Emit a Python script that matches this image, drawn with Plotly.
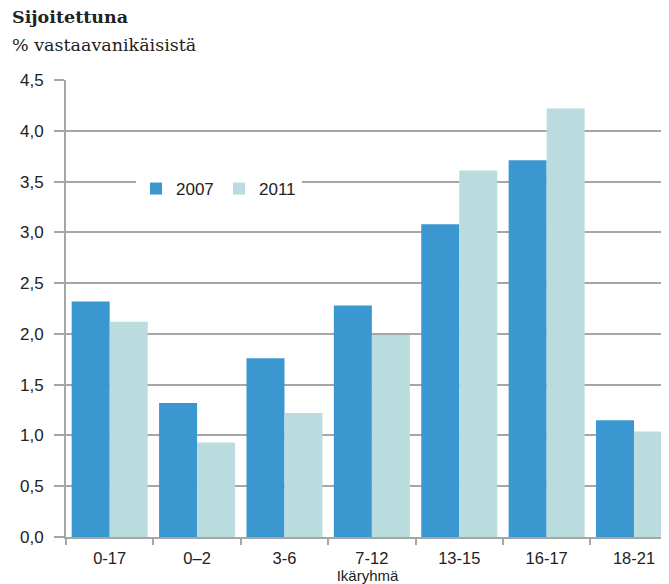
import plotly.graph_objects as go

categories = ["0-17", "0–2", "3-6", "7-12", "13-15", "16-17", "18-21"]
values_2007 = [2.32, 1.32, 1.76, 2.28, 3.08, 3.71, 1.15]
values_2011 = [2.12, 0.93, 1.22, 1.99, 3.61, 4.22, 1.04]
y_ticks = [0, 0.5, 1.0, 1.5, 2.0, 2.5, 3.0, 3.5, 4.0, 4.5]
y_tick_labels = ["0,0", "0,5", "1,0", "1,5", "2,0", "2,5", "3,0", "3,5", "4,0", "4,5"]

W, H = 661, 576
L, T, B = 58, 72, 47
PW, PH = W - L, H - T - B

fig = go.Figure()
fig.add_trace(go.Bar(x=categories, y=values_2007, name="2007",
                     marker=dict(color="#3a97cf", line=dict(width=0))))
fig.add_trace(go.Bar(x=categories, y=values_2011, name="2011",
                     marker=dict(color="#bbdcdf", line=dict(width=0))))

fig.update_layout(
    width=W, height=H,
    margin=dict(l=L, r=0, t=T, b=B),
    paper_bgcolor="white", plot_bgcolor="white",
    barmode="group", bargap=0.13, bargroupgap=0,
    font=dict(family="Liberation Sans, Arial, sans-serif", size=17, color="#222222"),
    showlegend=True,
    legend=dict(orientation="h", x=(128 - L) / PW, y=1 - (181 - T) / PH,
                xanchor="left", yanchor="middle",
                bgcolor="white", borderwidth=0, font=dict(size=17),
                itemwidth=30, entrywidth=38, tracegroupgap=0),
    xaxis=dict(range=[-0.5, 6.4], showgrid=False, showline=True, linecolor="#a6a6a6",
               linewidth=2, ticks="outside", tickson="boundaries", ticklen=6,
               tickcolor="#a6a6a6", tickwidth=2, tickfont=dict(size=16.5),
               ticklabelstandoff=5,
               title=dict(text="Ikäryhmä", font=dict(size=15), standoff=6)),
    yaxis=dict(range=[0, 4.5], tickvals=y_ticks, ticktext=y_tick_labels,
               showgrid=True, gridcolor="#a6a6a6", gridwidth=2,
               showline=True, linecolor="#a6a6a6", linewidth=2,
               ticks="outside", ticklen=10, tickcolor="#a6a6a6", tickwidth=2,
               tickfont=dict(size=17), ticklabelstandoff=7, zeroline=False),
    annotations=[
        dict(text="<b>Sijoitettuna</b>", xref="paper", yref="paper", x=-(L - 2) / PW,
             y=1 + (T - 9) / PH,
             xanchor="left", yanchor="middle", showarrow=False,
             font=dict(family="DejaVu Serif, serif", size=17.5, color="#222222")),
        dict(text="% vastaavanikäisistä", xref="paper", yref="paper", x=-(L - 2) / PW,
             y=1 + (T - 37) / PH,
             xanchor="left", yanchor="middle", showarrow=False,
             font=dict(family="DejaVu Serif, serif", size=17.5, color="#222222")),
    ],
)

fig.write_html("out.html")
